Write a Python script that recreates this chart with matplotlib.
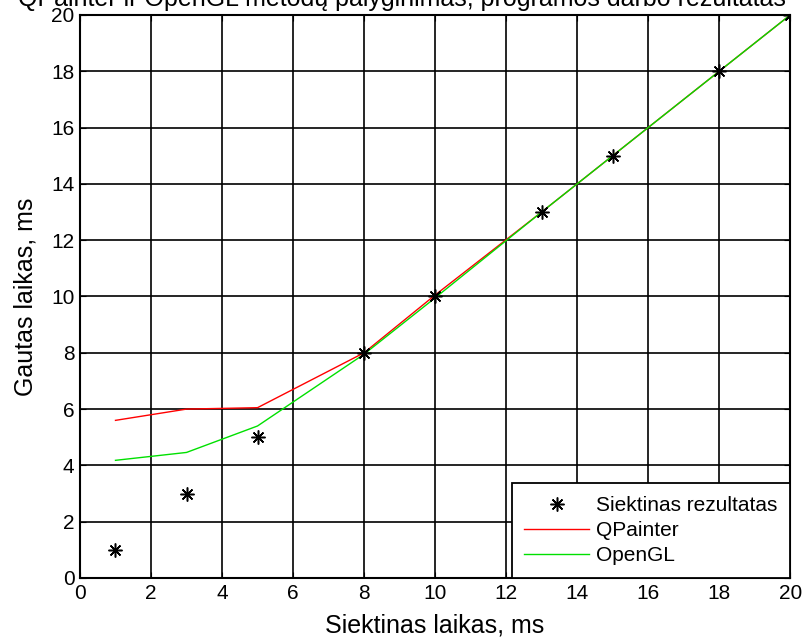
import matplotlib
matplotlib.use("Agg")
import matplotlib.pyplot as plt

plt.rcParams['font.family'] = ['Liberation Sans', 'DejaVu Sans']

x_vals = [1, 3, 5, 8, 10, 13, 15, 18, 20]
target = [1, 3, 5, 8, 10, 13, 15, 18, 20]
qpainter = [5.6, 6.0, 6.05, 8.0, 10.05, 13.0, 15.0, 18.0, 20.0]
opengl = [4.18, 4.46, 5.4, 7.95, 9.95, 13.0, 15.0, 18.0, 20.0]
xticks = list(range(0, 21, 2))
yticks = list(range(0, 21, 2))

fig = plt.figure(figsize=(8.03, 6.41), dpi=100)
ax = fig.add_axes([0.0996, 0.0983, 0.8844, 0.8783])

ax.plot(x_vals, target, linestyle='none', marker=(8, 2, 0), markersize=10,
        color='black', markeredgewidth=1.1, label='Siektinas rezultatas', zorder=5)
ax.plot(x_vals, qpainter, color='#ff0000', linewidth=1, label='QPainter', zorder=4)
ax.plot(x_vals, opengl, color='#00e000', linewidth=1, label='OpenGL', zorder=4)

ax.set_xlim(0, 20)
ax.set_ylim(0, 20)
ax.set_xticks(xticks)
ax.set_yticks(yticks)
ax.grid(True, color='black', linestyle='-', linewidth=1.2)
ax.tick_params(direction='in', labelsize=15, length=4, top=True, right=True, pad=4)
for s in ax.spines.values():
    s.set_linewidth(1.5)

ax.set_xlabel('Siektinas laikas, ms', fontsize=18, labelpad=8)
ax.set_ylabel('Gautas laikas, ms', fontsize=18, labelpad=10)

leg = ax.legend(loc='lower right', fontsize=15, fancybox=False, framealpha=1,
                edgecolor='black', borderaxespad=0, handlelength=3.1,
                borderpad=0.6, labelspacing=0.3, handletextpad=0.35)
leg.get_frame().set_linewidth(1.3)

fig.text(0.5, 1 - 6 / 641, 'QPainter ir OpenGL metodų palyginimas, programos darbo rezultatas',
         ha='center', va='baseline', fontsize=18)

fig.savefig('out.png', dpi=100)
